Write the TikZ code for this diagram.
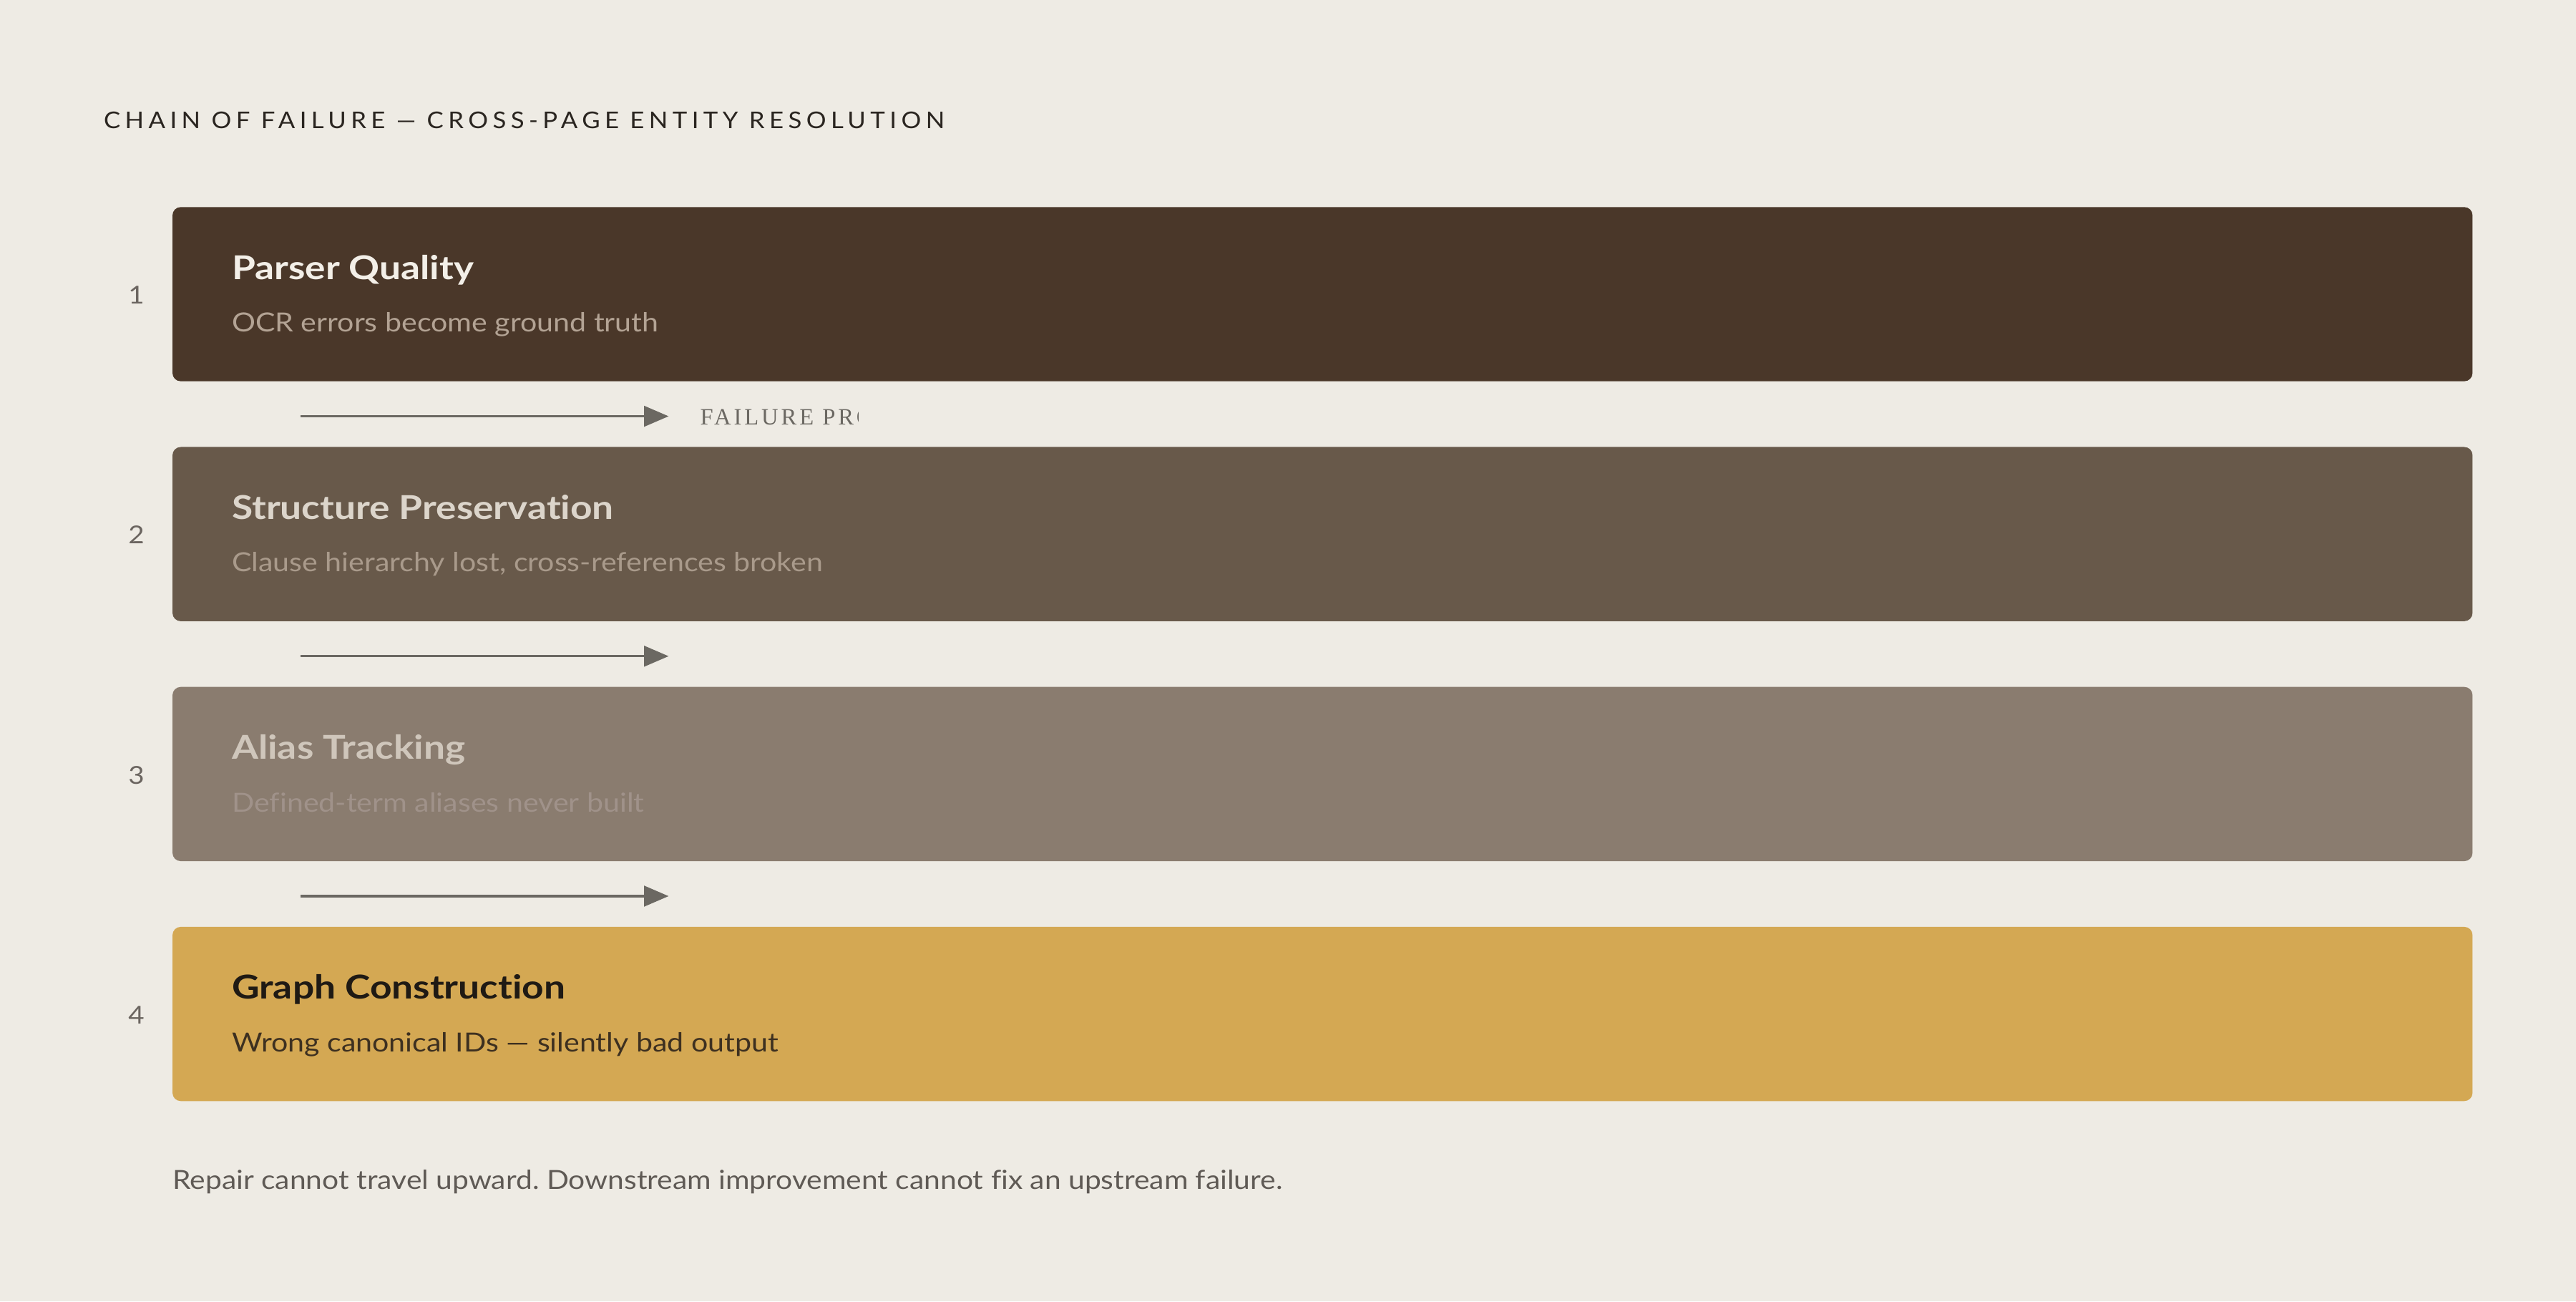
\documentclass[tikz,border=0pt]{standalone}
\usepackage{fontspec}
\setmainfont{Lato}[Ligatures=NoCommon]
\newfontfamily\subfont[FakeStretch=1.12,Ligatures=NoCommon]{Lato}
\newfontfamily\footfont[FakeStretch=1.11,Ligatures=NoCommon]{Lato}
\newfontfamily\ttlfont[FakeStretch=1.16,Ligatures=NoCommon]{Lato Bold}
\newfontfamily\capsfont[LetterSpace=20,FakeStretch=1.08]{Lato}
\newfontfamily\seriffont[LetterSpace=12]{Liberation Serif}
\usetikzlibrary{arrows.meta}
\definecolor{bg}{HTML}{EEEBE4}
\definecolor{boxA}{HTML}{4A3729}
\definecolor{boxB}{HTML}{68594A}
\definecolor{boxC}{HTML}{8A7C6F}
\definecolor{boxD}{HTML}{D4A853}
\definecolor{ttlA}{HTML}{F3EFE8}
\definecolor{subA}{HTML}{B3A394}
\definecolor{ttlB}{HTML}{DCD5CB}
\definecolor{subB}{HTML}{A99A8B}
\definecolor{ttlC}{HTML}{CFC6BB}
\definecolor{subC}{HTML}{A0928A}
\definecolor{ttlD}{HTML}{1F1A14}
\definecolor{subD}{HTML}{3D3020}
\definecolor{numcol}{HTML}{6B6560}
\definecolor{arrcol}{HTML}{6B6862}
\definecolor{footcol}{HTML}{5F5A55}
\definecolor{headcol}{HTML}{2A2520}
\frenchspacing
\begin{document}
\begin{tikzpicture}[x=1pt,y=-1pt,
  stagebox/.style={rectangle, rounded corners=5pt, minimum width=1400pt, minimum height=106pt, inner sep=0pt, draw=none},
  stagettl/.style={anchor=base west, inner sep=0pt, font=\fontsize{20}{24}\ttlfont},
  stagesub/.style={anchor=base west, inner sep=0pt, font=\fontsize{16}{19}\subfont},
  stagenum/.style={anchor=base, inner sep=0pt, text=numcol, font=\fontsize{15}{18}\subfont},
  flow/.style={draw=arrcol, line width=1.4pt, -{Triangle[length=15pt,width=12.5pt]}},
  lbl/.style={anchor=base west, inner sep=0pt, text=arrcol, font=\fontsize{14.2}{17}\seriffont},
  foot/.style={anchor=base west, inner sep=0pt, text=footcol, font=\fontsize{16}{19}\footfont},
  head/.style={anchor=base west, inner sep=0pt, text=headcol, font=\fontsize{14}{17}\capsfont}
]
\fill[bg] (0,0) rectangle (1568,792);
\useasboundingbox (0,0) rectangle (1568,792);

\node[head] (header) at (63,78) {CHAIN OF FAILURE — CROSS-PAGE ENTITY RESOLUTION};

\node[stagebox, fill=boxA] (b1) at (805,179) {};
\node[stagebox, fill=boxB] (b2) at (805,325) {};
\node[stagebox, fill=boxC] (b3) at (805,471) {};
\node[stagebox, fill=boxD] (b4) at (805,617) {};

\node[stagenum] (n1) at (83,185) {1};
\node[stagenum] (n2) at (83,331) {2};
\node[stagenum] (n3) at (83,477) {3};
\node[stagenum] (n4) at (83,623) {4};

\node[stagettl, text=ttlA] (t1) at (141,170) {Parser Quality};
\node[stagesub, text=subA] (s1) at (141,202) {OCR errors become ground truth};
\node[stagettl, text=ttlB] (t2) at (141,316) {Structure Preservation};
\node[stagesub, text=subB] (s2) at (141,348) {Clause hierarchy lost, cross-references broken};
\node[stagettl, text=ttlC] (t3) at (141,462) {Alias Tracking};
\node[stagesub, text=subC] (s3) at (141,494) {Defined-term aliases never built};
\node[stagettl, text=ttlD] (t4) at (141,608) {Graph Construction};
\node[stagesub, text=subD] (s4) at (141,640) {Wrong canonical IDs — silently bad output};

\coordinate (a1s) at (183,253.3);
\coordinate (a1e) at (407,253.3);
\coordinate (a2s) at (183,399.3);
\coordinate (a2e) at (407,399.3);
\coordinate (a3s) at (183,545.3);
\coordinate (a3e) at (407,545.3);
\draw[flow] (a1s) -- (a1e);
\draw[flow] (a2s) -- (a2e);
\draw[flow] (a3s) -- (a3e);

\begin{scope}
\clip (420,235) rectangle (522.5,272);
\node[lbl] (lab) at (426,258.6) {FAILURE PROPAGATES};
\end{scope}

\node[foot] (footer) at (105,723.5) {Repair cannot travel upward. Downstream improvement cannot fix an upstream failure.};
\end{tikzpicture}
\end{document}
